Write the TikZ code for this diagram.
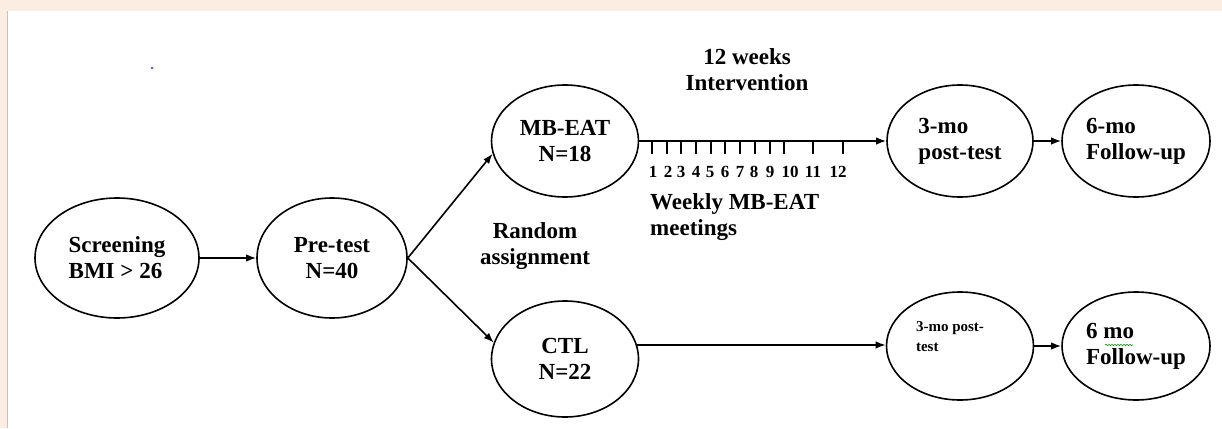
\documentclass[tikz,border=0pt]{standalone}
\usepackage{fontspec}
\setmainfont{Liberation Serif}
\usetikzlibrary{shapes.geometric,arrows.meta,decorations.pathmorphing}
\definecolor{pagebg}{HTML}{FBEDE2}
\definecolor{edgegrey}{HTML}{C9C1BA}
\begin{document}
\begin{tikzpicture}[x=1pt,y=-1pt,
    oval/.style={draw,ellipse,line width=1.6pt,inner sep=0pt,align=center,font=\bfseries\fontsize{23}{26}\selectfont},
    lbl/.style={inner sep=0pt,align=center,font=\bfseries\fontsize{23}{26}\selectfont},
    wklbl/.style={inner sep=0pt,font=\bfseries\fontsize{17}{19}\selectfont},
    arr/.style={-{Latex[length=10pt,width=7.5pt]},line width=1.6pt}]
    \useasboundingbox (0,0) rectangle (1222,428);
    \fill[pagebg] (0,0) rectangle (1222,11);
    \fill[pagebg] (0,0) rectangle (7,428);
    \draw[edgegrey,line width=1.5pt] (7.5,11) -- (7.5,428);
    \fill[blue!70] (152,68) circle[radius=1.3];

    \node[oval,minimum width=164,minimum height=120,align=left] (screen) at (117,258) {Screening\\BMI > 26};
    \node[oval,minimum width=150,minimum height=120] (pre) at (332,258) {Pre-test\\N=40};
    \node[oval,minimum width=147,minimum height=112] (mbeat) at (565,141) {MB-EAT\\N=18};
    \node[oval,minimum width=147,minimum height=116] (ctl) at (565,359) {CTL\\N=22};
    \node[oval,minimum width=146,minimum height=112,align=left] (post1) at (960,141) {3-mo\\post-test};
    \node[oval,minimum width=148,minimum height=112,align=left] (fu1) at (1136,141) {6-mo\\Follow-up};
    \node[oval,minimum width=147,minimum height=108] (post2) at (960,346) {};
    \node[inner sep=0pt,align=left,font=\bfseries\fontsize{15}{20}\selectfont] (post2txt) at (950,337) {3-mo post-\\test};
    \node[oval,minimum width=148,minimum height=108,align=left] (fu2) at (1136,346) {6 mo\\Follow-up};
    \draw[green!60!black,line width=0.6pt,decorate,decoration={snake,amplitude=0.8,segment length=3}] (1105,345) -- (1133,345);

    \node[lbl] (weeks) at (747,70) {12 weeks\\Intervention};
    \node[lbl,align=left,anchor=west] (meet) at (650,217) {Weekly MB-EAT\\meetings};
    \node[lbl] (rand) at (535,246) {Random\\assignment};

    \draw[arr] (screen) -- (pre);
    \draw[arr] (pre.east) -- (mbeat.190);
    \draw[arr] (pre.east) -- (ctl.167);
    \draw[arr] (mbeat) -- (post1);
    \draw[arr] (post1) -- (fu1);
    \draw[arr] (ctl.11) -- (ctl.11 -| post2.west);
    \draw[arr] (post2) -- (fu2);

    \foreach \x/\n/\lx in {652/1/653,667/2/668,681/3/681,696/4/696,711/5/710,725/6/725,740/7/740,755/8/754,770/9/770,784/10/790,813/11/813,843/12/838}{
        \draw[line width=1.2pt] (\x,141) -- (\x,154);
        \node[wklbl] (wk\n) at (\lx,172) {\n};
    }
\end{tikzpicture}
\end{document}
